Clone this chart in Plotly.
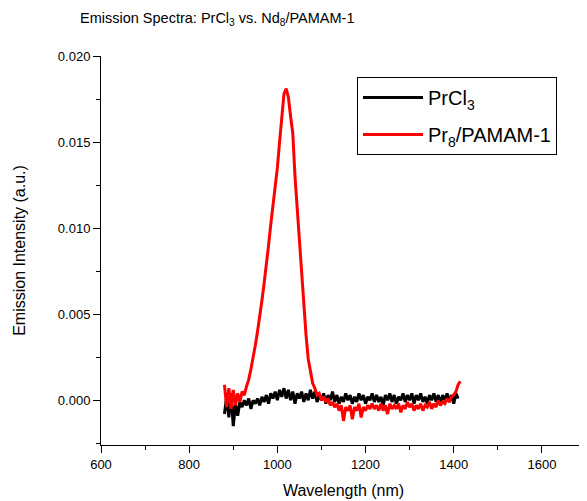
import plotly.graph_objects as go

# Wavelength grids (nm)
wl_pr = list(range(880, 1420, 5))   # Pr8/PAMAM-1: 880..1415
wl_cl = list(range(880, 1415, 5))   # PrCl3: 880..1410

# Pr8/PAMAM-1 emission intensity (a.u.)
pamam = [
    0.0009, -0.0004, 0.0007, -0.0005, 0.0006, -0.0003, 0.0004, -0.0001, 0.0005, 0.0003,   # 880-925
    0.0008, 0.0012, 0.0018, 0.0024, 0.0032, 0.0040, 0.0048, 0.0058, 0.0068, 0.0078,       # 930-975
    0.0090, 0.0102, 0.0112, 0.0124, 0.0135, 0.0150, 0.0166, 0.0178, 0.0181, 0.0176,       # 980-1025
    0.0165, 0.0155, 0.0130, 0.0112, 0.0090, 0.0070, 0.0052, 0.0038, 0.0024, 0.0016,       # 1030-1075
    0.0010, 0.0007, 0.0003, 0.0004, 0.0000, 0.0002, -0.0001, 0.0001, -0.0003, -0.0001,    # 1080-1125
    -0.0004, -0.0002, -0.0006, -0.0003, -0.0012, -0.0004, -0.0006, -0.0003, -0.0011, -0.0004,  # 1130-1175
    -0.0006, -0.0002, -0.0010, -0.0004, -0.0006, -0.0003, -0.0005, -0.0002, -0.0005, -0.0003,  # 1180-1225
    -0.0006, -0.0002, -0.0006, -0.0003, -0.0008, -0.0002, -0.0005, -0.0003, -0.0005, -0.0002,  # 1230-1275
    -0.0007, -0.0003, -0.0005, -0.0001, -0.0004, -0.0002, -0.0006, -0.0003, -0.0005, -0.0002,  # 1280-1325
    -0.0006, -0.0003, -0.0004, -0.0001, -0.0005, -0.0002, -0.0004, 0.0000, -0.0003, -0.0001,   # 1330-1375
    -0.0002, 0.0001, -0.0001, 0.0002, 0.0003, 0.0005, 0.0009, 0.0011,                         # 1380-1415
]

# PrCl3 emission intensity (a.u.)
prcl3 = [
    -0.0008, 0.0002, -0.0010, 0.0004, -0.0015, -0.0002, -0.0009, -0.0001, -0.0004, 0.0000,  # 880-925
    -0.0003, 0.0001, -0.0005, 0.0000, -0.0002, 0.0001, -0.0003, 0.0002, -0.0001, 0.0003,    # 930-975
    -0.0002, 0.0004, 0.0001, 0.0005, 0.0000, 0.0006, 0.0002, 0.0007, 0.0001, 0.0006,        # 980-1025
    0.0000, 0.0005, -0.0002, 0.0004, 0.0001, 0.0005, -0.0001, 0.0004, 0.0000, 0.0006,       # 1030-1075
    0.0001, 0.0005, -0.0001, 0.0003, 0.0000, 0.0004, -0.0002, 0.0003, 0.0000, 0.0005,       # 1080-1125
    -0.0001, 0.0003, -0.0002, 0.0002, -0.0001, 0.0004, 0.0000, 0.0003, -0.0002, 0.0002,     # 1130-1175
    -0.0001, 0.0004, 0.0000, 0.0003, -0.0002, 0.0002, 0.0000, 0.0004, -0.0001, 0.0003,      # 1180-1225
    -0.0001, 0.0002, -0.0003, 0.0003, 0.0000, 0.0004, -0.0001, 0.0003, -0.0002, 0.0002,     # 1230-1275
    0.0000, 0.0004, -0.0001, 0.0003, 0.0000, 0.0004, -0.0002, 0.0003, 0.0000, 0.0004,       # 1280-1325
    -0.0001, 0.0002, -0.0002, 0.0003, 0.0000, 0.0004, -0.0001, 0.0003, -0.0002, 0.0003,     # 1330-1375
    0.0000, 0.0004, -0.0001, 0.0003, -0.0002, 0.0004, 0.0001,                              # 1380-1410
]

series_names = ["PrCl<sub>3</sub>", "Pr<sub>8</sub>/PAMAM-1"]
x_ticks = [600, 800, 1000, 1200, 1400, 1600]
y_ticks = [0.000, 0.005, 0.010, 0.015, 0.020]

FONT = "Arial, Liberation Sans, sans-serif"

# The page body has an 8px margin, so the figure is sized to fit the window.
W, H = 579, 493
L, T, B, R = 93, 48, 56, 1
PW, PH = W - L - R, H - T - B

fig = go.Figure()
fig.add_trace(go.Scatter(x=wl_cl, y=prcl3, mode="lines", name=series_names[0],
                         legendgroup="a", line=dict(color="black", width=3)))
fig.add_trace(go.Scatter(x=wl_pr, y=pamam, mode="lines", name=series_names[1],
                         legendgroup="b", line=dict(color="red", width=3)))

axis_common = dict(
    showgrid=False, zeroline=False, showline=True, linecolor="black", linewidth=1,
    ticks="outside", ticklen=7, tickwidth=1, tickcolor="black",
    tickfont=dict(family=FONT, size=13, color="black"),
    mirror=False,
)

fig.update_layout(
    width=W, height=H,
    margin=dict(l=L, r=R, t=T, b=B),
    paper_bgcolor="white", plot_bgcolor="white",
    font=dict(family=FONT, color="black"),
    title=dict(text="Emission Spectra: PrCl<sub>3</sub> vs. Nd<sub>8</sub>/PAMAM-1",
               x=72 / W, xanchor="left", y=1 - 10 / H, yanchor="middle",
               font=dict(family=FONT, size=14.5, color="black")),
    showlegend=True,
    legend=dict(x=(349 - L) / PW, y=(H - B - 69) / PH, xanchor="left", yanchor="top",
                bordercolor="black", borderwidth=1, bgcolor="white",
                font=dict(family=FONT, size=20, color="black"),
                itemwidth=60, entrywidth=229, entrywidthmode="pixels",
                traceorder="grouped", tracegroupgap=8),
    xaxis=dict(axis_common, range=[600, 1700], tickvals=x_ticks,
               minor=dict(dtick=100, tick0=600, ticks="outside", ticklen=4, tickcolor="black"),
               title=dict(text="Wavelength (nm)", standoff=14,
                          font=dict(family=FONT, size=16, color="black"))),
    yaxis=dict(axis_common, range=[-0.0026, 0.020], tickvals=y_ticks, tickformat=".3f",
               minor=dict(dtick=0.0025, tick0=0, ticks="outside", ticklen=4, tickcolor="black"),
               title=dict(text="Emission Intensity (a.u.)", standoff=28,
                          font=dict(family=FONT, size=16, color="black"))),
)

fig.write_html("out.html")
